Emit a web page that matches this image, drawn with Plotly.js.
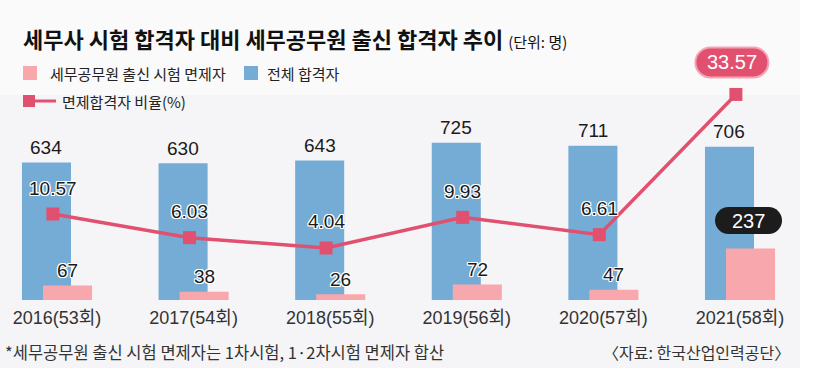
<!DOCTYPE html>
<html>
<head>
<meta charset="utf-8">
<script src="https://cdn.plot.ly/plotly-3.0.1.min.js"></script>
<style>html,body{margin:0;padding:0;background:#fff;}#chart{width:818px;height:382px;}</style>
</head>
<body>
<div id="chart"></div>
<script>
// ---- data ----
const years = ['2016(53회)', '2017(54회)', '2018(55회)', '2019(56회)', '2020(57회)', '2021(58회)'];
const totalPassers = [634, 630, 643, 725, 711, 706];
const exemptPassers = [67, 38, 26, 72, 47, 237];
const exemptRatio = [10.57, 6.03, 4.04, 9.93, 6.61, 33.57];

const titleText = '세무사 시험 합격자 대비 세무공무원 출신 합격자 추이';
const unitText = '(단위: 명)';
const legendExempt = '세무공무원 출신 시험 면제자';
const legendTotal = '전체 합격자';
const legendRatio = '면제합격자 비율(%)';
const footnote = '*세무공무원 출신 시험 면제자는 1차시험, 1·2차시험 면제자 합산';
const sourceText = '〈자료: 한국산업인력공단〉';

// ---- styles ----
const W = 818, H = 382;
const TOP = 40, BASE = 300;           // plot area in px
const BLUE = '#74acd6', PINK = '#f8a8ad', LINE = '#e2506f';
const NUMFONT = 'Liberation Sans, Arial, sans-serif';
const KRFONT = 'Noto Sans CJK KR, sans-serif';
const BARW = 0.359, SHIFT = 0.077, LSHIFT = -0.03;

const idx = years.map((_, i) => i);
const px = x => x / W;
const py = y => (BASE - y) / (BASE - TOP);
const outline = '1px 1px 0 #fff, -1px -1px 0 #fff, 1px -1px 0 #fff, -1px 1px 0 #fff, 0 1px 0 #fff, 0 -1px 0 #fff, 1px 0 0 #fff, -1px 0 0 #fff';

function pill(cx, cy, w, h) {
  const r = h / 2, k = 0.5523 * r;
  const l = cx - w / 2 + r, rr = cx + w / 2 - r, t = cy + r, b = cy - r;
  return `M ${l},${t} L ${rr},${t} C ${rr + k},${t} ${rr + r},${cy + k} ${rr + r},${cy} ` +
         `C ${rr + r},${cy - k} ${rr + k},${b} ${rr},${b} L ${l},${b} ` +
         `C ${l - k},${b} ${l - r},${cy - k} ${l - r},${cy} C ${l - r},${cy + k} ${l - k},${t} ${l},${t} Z`;
}

const hl = years.length - 1;

const traces = [
  { type: 'bar', x: idx, y: totalPassers, width: BARW, offset: -SHIFT - BARW / 2,
    marker: { color: BLUE }, name: legendTotal, hoverinfo: 'skip', showlegend: false },
  { type: 'bar', x: idx, y: exemptPassers, width: BARW, offset: SHIFT - BARW / 2,
    marker: { color: PINK }, name: legendExempt, hoverinfo: 'skip', showlegend: false },
  { type: 'scatter', mode: 'lines+markers', x: idx.map(i => i + LSHIFT), y: exemptRatio, yaxis: 'y2',
    line: { color: LINE, width: 3.5 }, marker: { symbol: 'square', size: 13, color: LINE },
    name: legendRatio, hoverinfo: 'skip', showlegend: false, cliponaxis: false }
];

const annotations = [];
const shapes = [];

// background panel
shapes.push({ type: 'rect', xref: 'paper', yref: 'paper', x0: px(0), x1: px(800), y0: py(0), y1: py(368),
  fillcolor: '#fafafa', line: { width: 0 }, layer: 'below' });
shapes.push({ type: 'rect', xref: 'paper', yref: 'paper', x0: px(0), x1: px(800), y0: py(95), y1: py(368),
  fillcolor: '#f5f5f7', line: { width: 0 }, layer: 'below' });

idx.forEach(i => {
  // total values
  annotations.push({ x: i - SHIFT, y: totalPassers[i], xref: 'x', yref: 'y', text: String(totalPassers[i]),
    showarrow: false, yanchor: 'middle', yshift: 15, font: { family: NUMFONT, size: 19, color: '#1a1a1a' } });
  if (i !== hl) {
    annotations.push({ x: i + LSHIFT, y: exemptRatio[i], xref: 'x', yref: 'y2', text: exemptRatio[i].toFixed(2),
      showarrow: false, yanchor: 'middle', yshift: 26,
      font: { family: NUMFONT, size: 19, color: '#1a1a1a', shadow: outline } });
    annotations.push({ x: i + SHIFT, y: exemptPassers[i], xref: 'x', yref: 'y', text: String(exemptPassers[i]),
      showarrow: false, yanchor: 'middle', yshift: 15,
      font: { family: NUMFONT, size: 19, color: '#1a1a1a', shadow: outline } });
  } else {
    shapes.push({ type: 'path', xref: 'x', yref: 'y2', xsizemode: 'pixel', ysizemode: 'pixel',
      xanchor: i + LSHIFT, yanchor: exemptRatio[i], path: pill(-4, 32, 73, 30),
      fillcolor: LINE, line: { color: '#f5a3b4', width: 2 } });
    annotations.push({ x: i + LSHIFT, y: exemptRatio[i], xref: 'x', yref: 'y2', text: exemptRatio[i].toFixed(2),
      showarrow: false, yanchor: 'middle', yshift: 32, xshift: -4,
      font: { family: NUMFONT, size: 20, color: '#ffffff' } });
    shapes.push({ type: 'path', xref: 'x', yref: 'y', xsizemode: 'pixel', ysizemode: 'pixel',
      xanchor: i + SHIFT, yanchor: exemptPassers[i], path: pill(-2, 28, 67, 27),
      fillcolor: '#1c1c1c', line: { width: 0 } });
    annotations.push({ x: i + SHIFT, y: exemptPassers[i], xref: 'x', yref: 'y', text: String(exemptPassers[i]),
      showarrow: false, yanchor: 'middle', yshift: 28, xshift: -2,
      font: { family: NUMFONT, size: 20, color: '#ffffff' } });
  }
});

// legend (manual)
shapes.push({ type: 'rect', xref: 'paper', yref: 'paper', x0: px(23), x1: px(37), y0: py(66), y1: py(80),
  fillcolor: PINK, line: { width: 0 } });
shapes.push({ type: 'rect', xref: 'paper', yref: 'paper', x0: px(244), x1: px(258), y0: py(66), y1: py(80),
  fillcolor: BLUE, line: { width: 0 } });
shapes.push({ type: 'line', xref: 'paper', yref: 'paper', x0: px(25), x1: px(56), y0: py(101), y1: py(101),
  line: { color: LINE, width: 3 } });
shapes.push({ type: 'rect', xref: 'paper', yref: 'paper', x0: px(23), x1: px(35), y0: py(95), y1: py(107),
  fillcolor: LINE, line: { width: 0 } });
annotations.push({ xref: 'paper', yref: 'paper', x: px(48), y: py(73), xanchor: 'left', yanchor: 'middle',
  text: legendExempt, showarrow: false, font: { family: KRFONT, size: 15, color: '#222' } });
annotations.push({ xref: 'paper', yref: 'paper', x: px(265), y: py(73), xanchor: 'left', yanchor: 'middle',
  text: legendTotal, showarrow: false, font: { family: KRFONT, size: 15, color: '#222' } });
annotations.push({ xref: 'paper', yref: 'paper', x: px(60), y: py(101), xanchor: 'left', yanchor: 'middle',
  text: legendRatio, showarrow: false, font: { family: KRFONT, size: 15, color: '#222' } });

// footnote & source
annotations.push({ xref: 'paper', yref: 'paper', x: px(3), y: py(352), xanchor: 'left', yanchor: 'middle',
  text: footnote, showarrow: false, font: { family: KRFONT, size: 16.5, color: '#333' } });
annotations.push({ xref: 'paper', yref: 'paper', x: px(792), y: py(352), xanchor: 'right', yanchor: 'middle',
  text: sourceText, showarrow: false, font: { family: KRFONT, size: 16, color: '#333' } });

const layout = {
  width: W, height: H,
  margin: { l: 0, r: 0, t: TOP, b: H - BASE, pad: 0 },
  paper_bgcolor: '#ffffff', plot_bgcolor: 'rgba(0,0,0,0)',
  barmode: 'overlay',
  showlegend: false,
  title: {
    text: '<b>' + titleText + '</b> <span style="font-size:15px">' + unitText + '</span>',
    x: px(23), xanchor: 'left', xref: 'paper', y: 1 - 40 / H, yref: 'container', yanchor: 'middle',
    font: { family: KRFONT, size: 22, color: '#111' }
  },
  xaxis: {
    range: [-57 / 136.6, (W - 57) / 136.6], tickmode: 'array', tickvals: idx, ticktext: years,
    showgrid: false, zeroline: false, showline: false, ticks: '',
    tickfont: { family: NUMFONT + ', Noto Sans CJK KR', size: 18, color: '#333' }, ticklabelstandoff: 5
  },
  yaxis: { range: [0, (BASE - TOP) / 0.217], visible: false, fixedrange: true },
  yaxis2: { overlaying: 'y', range: [(269 - BASE) / 5.2, (269 - TOP) / 5.2], visible: false },
  shapes: shapes,
  annotations: annotations
};

Plotly.newPlot('chart', traces, layout, { displayModeBar: false, staticPlot: true });
</script>
</body>
</html>
